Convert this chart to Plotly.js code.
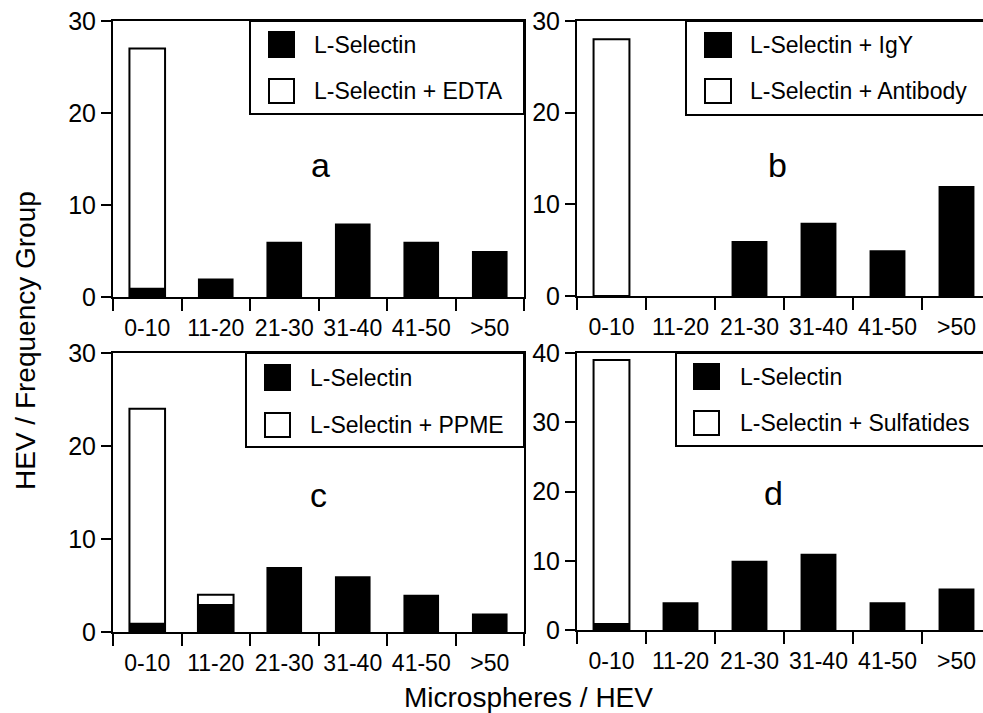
<!DOCTYPE html>
<html>
<head>
<meta charset="utf-8">
<script src="https://cdn.plot.ly/plotly-3.0.1.min.js"></script>
<style>html,body{margin:0;padding:0;background:#fff;overflow:hidden}</style>
</head>
<body>
<div id="chart" style="width:983px;height:713px"></div>
<script>
// ---- data ----
const categories = ['0-10','11-20','21-30','31-40','41-50','>50'];

const aBlackName = 'L-Selectin';
const aWhiteName = 'L-Selectin + EDTA';
const aBlack = [1, 2, 6, 8, 6, 5];
const aWhite = [27, 0, 0, 0, 0, 0];

const bBlackName = 'L-Selectin + IgY';
const bWhiteName = 'L-Selectin + Antibody';
const bBlack = [0, 0, 6, 8, 5, 12];
const bWhite = [28, 0, 0, 0, 0, 0];

const cBlackName = 'L-Selectin';
const cWhiteName = 'L-Selectin + PPME';
const cBlack = [1, 3, 7, 6, 4, 2];
const cWhite = [24, 4, 0, 0, 0, 0];

const dBlackName = 'L-Selectin';
const dWhiteName = 'L-Selectin + Sulfatides';
const dBlack = [1, 4, 10, 11, 4, 6];
const dWhite = [39, 0, 0, 0, 0, 0];

const panelLetters = ['a', 'b', 'c', 'd'];
const yTitle = 'HEV / Frequency Group';
const xTitle = 'Microspheres / HEV';

// ---- layout helpers ----
const W = 983, H = 713;
const px = v => v / W;
const py = v => 1 - v / H;
const FONT = 'Liberation Sans, Arial, Helvetica, sans-serif';

// zero-height bars are not drawn (no outline on the baseline)
const nz = vals => vals.map(v => (v === 0 ? null : v));

function whiteTrace(vals, name, xa, ya) {
  return {type: 'bar', x: categories, y: nz(vals), name: name, xaxis: xa, yaxis: ya,
    width: 0.52, marker: {color: '#ffffff', line: {color: '#000', width: 2}}, showlegend: false};
}
function blackTrace(vals, name, xa, ya) {
  return {type: 'bar', x: categories, y: nz(vals), name: name, xaxis: xa, yaxis: ya,
    width: 0.52, marker: {color: '#000000', line: {color: '#000', width: 0}}, showlegend: false};
}

const data = [
  whiteTrace(aWhite, aWhiteName, 'x', 'y'), blackTrace(aBlack, aBlackName, 'x', 'y'),
  whiteTrace(bWhite, bWhiteName, 'x2', 'y2'), blackTrace(bBlack, bBlackName, 'x2', 'y2'),
  whiteTrace(cWhite, cWhiteName, 'x3', 'y3'), blackTrace(cBlack, cBlackName, 'x3', 'y3'),
  whiteTrace(dWhite, dWhiteName, 'x4', 'y4'), blackTrace(dBlack, dBlackName, 'x4', 'y4')
];

function xax(l, r, range, anchor) {
  return {domain: [px(l), px(r)], range: range, type: 'category', anchor: anchor,
    showline: true, linecolor: '#000', linewidth: 2, mirror: true,
    ticks: 'outside', ticklen: 12, tickwidth: 2, tickcolor: '#000', tickson: 'boundaries',
    tickangle: 0, ticklabelstandoff: 9,
    showgrid: false, zeroline: false, tickfont: {size: 23, color: '#000', family: FONT}, fixedrange: true};
}
function yax(top, bottom, range, anchor, mirror) {
  return {domain: [py(bottom), py(top)], range: range, anchor: anchor,
    showline: true, linecolor: '#000', linewidth: 2, mirror: mirror,
    ticks: 'outside', ticklen: 10, tickwidth: 2, tickcolor: '#000', dtick: 10, tick0: 0,
    showgrid: false, zeroline: false, tickfont: {size: 25, color: '#000', family: FONT}, fixedrange: true};
}

// legend boxes drawn in pixel positions
const shapes = [];
const annotations = [];
function legendBox(box, sw1, sw2, textX, names) {
  shapes.push({type: 'rect', xref: 'paper', yref: 'paper', x0: px(box[0]), x1: px(box[1]), y0: py(box[3]), y1: py(box[2]),
    line: {color: '#000', width: 2}, fillcolor: '#fff', layer: 'above'});
  shapes.push({type: 'rect', xref: 'paper', yref: 'paper', x0: px(sw1[0]), x1: px(sw1[1]), y0: py(sw1[3]), y1: py(sw1[2]),
    line: {color: '#000', width: 2}, fillcolor: '#000', layer: 'above'});
  shapes.push({type: 'rect', xref: 'paper', yref: 'paper', x0: px(sw2[0]), x1: px(sw2[1]), y0: py(sw2[3]), y1: py(sw2[2]),
    line: {color: '#000', width: 2}, fillcolor: '#fff', layer: 'above'});
  annotations.push({xref: 'paper', yref: 'paper', x: px(textX), y: py((sw1[2] + sw1[3]) / 2), xanchor: 'left', yanchor: 'middle',
    text: names[0], showarrow: false, font: {size: 23, color: '#000', family: FONT}});
  annotations.push({xref: 'paper', yref: 'paper', x: px(textX), y: py((sw2[2] + sw2[3]) / 2), xanchor: 'left', yanchor: 'middle',
    text: names[1], showarrow: false, font: {size: 23, color: '#000', family: FONT}});
}
legendBox([250, 524, 21, 114], [269, 294, 32, 57], [269, 294, 79, 103], 312, [aBlackName, aWhiteName]);
legendBox([686, 990, 21, 115], [705, 731, 33, 57], [705, 731, 79, 103], 748, [bBlackName, bWhiteName]);
legendBox([246, 524, 353, 447], [265, 290, 365, 390], [265, 290, 413, 437], 308, [cBlackName, cWhiteName]);
legendBox([676, 990, 353, 446], [694, 719, 364, 389], [694, 719, 411, 435], 738, [dBlackName, dWhiteName]);

const letterPos = [[320, 165], [777, 165], [318, 495], [773, 493]];
panelLetters.forEach((t, i) => {
  annotations.push({xref: 'paper', yref: 'paper', x: px(letterPos[i][0]), y: py(letterPos[i][1]), xanchor: 'center', yanchor: 'middle',
    text: t, showarrow: false, font: {size: 34, color: '#000', family: FONT}});
});
annotations.push({xref: 'paper', yref: 'paper', x: px(25), y: py(341), xanchor: 'center', yanchor: 'middle', textangle: -90,
  text: yTitle, showarrow: false, font: {size: 28, color: '#000', family: FONT}});
annotations.push({xref: 'paper', yref: 'paper', x: px(528), y: py(697), xanchor: 'center', yanchor: 'middle',
  text: xTitle, showarrow: false, font: {size: 28, color: '#000', family: FONT}});

const bRange = [-0.5, -0.5 + (983 - 577) / 69];

const layout = {
  width: W, height: H, margin: {l: 0, r: 0, t: 0, b: 0},
  paper_bgcolor: '#fff', plot_bgcolor: '#fff',
  barmode: 'overlay', showlegend: false,
  font: {family: FONT, color: '#000'},
  xaxis: xax(113, 524, [-0.5, 5.5], 'y'),
  yaxis: yax(21, 297, [0, 30], 'x', true),
  xaxis2: xax(577, 983, bRange, 'y2'),
  yaxis2: yax(21, 296, [0, 30], 'x2', false),
  xaxis3: xax(113, 524, [-0.5, 5.5], 'y3'),
  yaxis3: yax(353, 632, [0, 30], 'x3', true),
  xaxis4: xax(577, 983, bRange, 'y4'),
  yaxis4: yax(353, 630, [0, 40], 'x4', false),
  shapes: shapes,
  annotations: annotations
};

Plotly.newPlot('chart', data, layout, {displayModeBar: false, staticPlot: true});
</script>
</body>
</html>
